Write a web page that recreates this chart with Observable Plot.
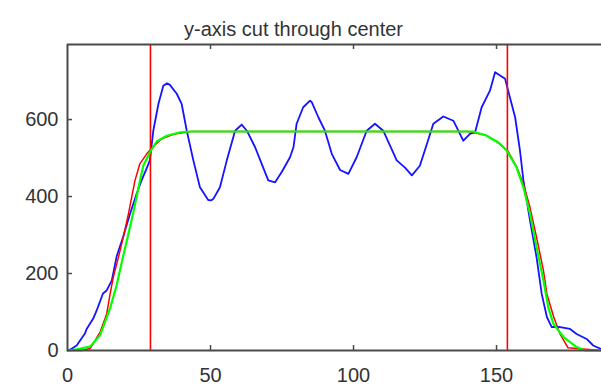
<!DOCTYPE html>
<html><head><meta charset="utf-8">
<script src="https://cdn.jsdelivr.net/npm/d3@7"></script>
<script src="https://cdn.jsdelivr.net/npm/@observablehq/plot@0.6"></script>
<style>body{margin:0;background:#fff} svg{display:block}</style>
</head><body><div id="chart"></div>
<script>
const title = "y-axis cut through center";

const blueX = [0,0.9,3.2,6.1,6.7,9.0,10.2,12.4,13.7,15.5,17.2,19.4,21.9,24.2,25.9,27.5,28.8,30,31.8,33.5,34.8,35.8,38.2,39.9,41.7,44,46.3,49.2,50.2,51,53.3,55.7,58.6,60.9,62.7,65.6,67.9,70.2,72.6,75.0,77.8,79,80.1,82.4,84.8,85.4,87.7,90,92.4,95.3,98.2,101.1,104.6,107.5,110.4,115.1,118,120.4,123.2,125.6,127.9,131.4,134.9,137.2,138.4,140.7,142.5,144.8,147.7,149.5,153,154.2,156.5,158.2,159.4,161.7,164,165.8,167.6,169.3,172.2,175.7,178,181.5,183.8,186.5];
const blueY = [0,2,13,44,56,83,104,148,156,182,245,294,356,408,442,470,494,571,641,688,694,690,667,641,571,494,424,391,390,394,424,494,571,587,571,528,485,442,437,465,502,528,589,632,649,645,606,571,511,469,459,502,571,589,571,494,475,455,480,535,589,608,597,563,545,563,567,632,675,723,706,671,606,519,442,338,242,147,87,61,61,56,43,30,13,4];

const redX = [0,5,7.9,11.4,13.7,14.9,16,17.8,19.5,21.3,23.6,25.3,27.7,30,33,37,43,140,146,150,154,157,159.5,161.7,164,166.4,167.6,170,172.2,175,186.5];
const redY = [0,0,5,48,95,147,190,242,294,355,442,485,511,530,550,562,569,569,560,544,518,478,430,372,294,208,147,87,43,7,0];

const greenX = [0,3.3,7.9,11.4,14.9,17.2,19.3,21.3,23,25.3,26.5,28.8,31.2,34.7,39.5,43,141.8,146.6,151.2,153.6,157,159.4,161.7,164,166.4,168.1,169.9,173.4,178,181,186.5];
const greenY = [0,3,10,40,110,170,240,303,358,440,480,515,543,558,567,569,569,558,537,519,476,424,355,268,182,112,69,35,9,0,0];

const cutLines = [29.0, 153.8];
const xTicks = [0, 50, 100, 150];
const yTicks = [0, 200, 400, 600];
const xDomain = [0, 186.7];
const yDomain = [0, 795];

const toPts = (xs, ys) => xs.map((x, i) => ({x, y: ys[i]}));
const blue = toPts(blueX, blueY);
const red = toPts(redX, redY);
const green = toPts(greenX, greenY);

const axisColor = "#4a4a4a";
const chart = Plot.plot({
  width: 601, height: 387,
  marginLeft: 67, marginRight: 0, marginTop: 44, marginBottom: 37,
  style: {fontFamily: "'Liberation Sans', Arial, sans-serif", fontSize: "20px", color: "#333", background: "#fff"},
  x: {domain: xDomain, label: null},
  y: {domain: yDomain, label: null},
  marks: [
    Plot.line(blue, {x: "x", y: "y", stroke: "#1414ff", strokeWidth: 1.8}),
    Plot.ruleX(cutLines, {stroke: "#ff0000", strokeWidth: 1.6}),
    Plot.line(red, {x: "x", y: "y", stroke: "#ff0000", strokeWidth: 1.5}),
    Plot.line(green, {x: "x", y: "y", stroke: "#00ff00", strokeWidth: 2.2}),
    Plot.ruleX([xDomain[0]], {stroke: axisColor, strokeWidth: 2}),
    Plot.ruleY([yDomain[0], yDomain[1]], {stroke: axisColor, strokeWidth: 2}),
    Plot.tickX(xTicks.slice(1), {x: d => d, stroke: axisColor, strokeWidth: 1.5, insetTop: 301}),
    Plot.tickX(xTicks.slice(1), {x: d => d, stroke: axisColor, strokeWidth: 1.5, insetBottom: 301}),
    Plot.tickY(yTicks.slice(1), {y: d => d, stroke: axisColor, strokeWidth: 1.5, insetRight: 529}),
    Plot.axisX(xTicks, {tickSize: 0, tickPadding: 17, fontSize: 20, label: null}),
    Plot.axisY(yTicks, {tickSize: 0, tickPadding: 9, fontSize: 20, label: null}),
    Plot.text([title], {frameAnchor: "top-left", dx: 226, dy: -23, textAnchor: "middle", fontSize: 20, fill: "#333"})
  ]
});
document.getElementById("chart").append(chart);
</script>
</body></html>
